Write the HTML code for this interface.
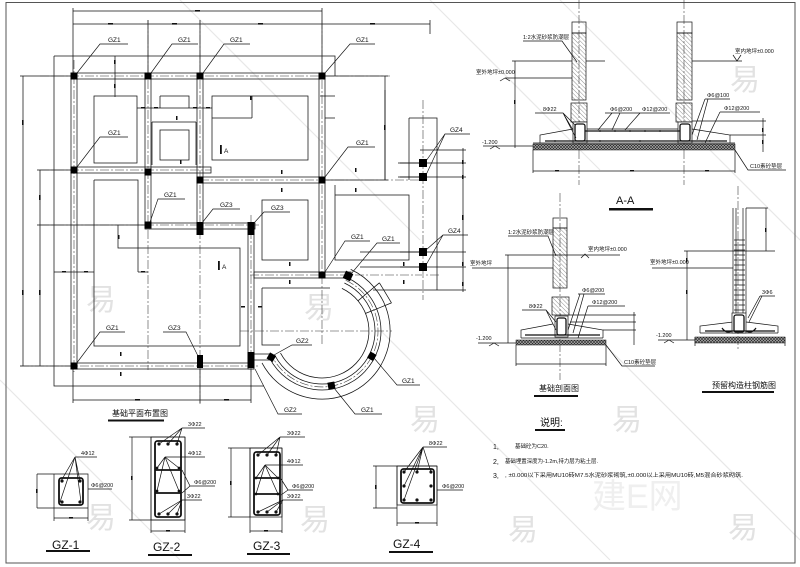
<!DOCTYPE html>
<html><head><meta charset="utf-8"><style>
html,body{margin:0;padding:0;background:#fff;}
svg{display:block}
text{font-family:"Liberation Sans","Noto Sans CJK SC",sans-serif;fill:#111}
.s{font-size:5.5px}
.m{font-size:6.5px}
.b{font-size:12px}
.w{font-size:30px;fill:#e2e2e2}
</style></head><body>
<svg width="800" height="567" viewBox="0 0 800 567" xmlns="http://www.w3.org/2000/svg">
<defs>
<pattern id="hp" width="3" height="3" patternUnits="userSpaceOnUse" patternTransform="rotate(-45)"><line x1="0" y1="0" x2="0" y2="3" stroke="#444" stroke-width="0.6"/></pattern>
<pattern id="cp" width="3" height="3" patternUnits="userSpaceOnUse"><rect width="3" height="3" fill="#aaa"/><path d="M0 0L3 3M3 0L0 3" stroke="#222" stroke-width="0.6"/></pattern>
</defs>
<rect width="800" height="567" fill="#fff"/>
<!-- watermarks -->
<g>
<text class="w" x="86" y="310">易</text><text class="w" x="304" y="318">易</text><text class="w" x="730" y="90">易</text>
<text class="w" x="86" y="528">易</text><text class="w" x="300" y="530">易</text><text class="w" x="410" y="430">易</text>
<text class="w" x="612" y="430">易</text><text class="w" x="508" y="540">易</text><text class="w" x="728" y="538">易</text>
<text x="592" y="508" style="font-size:34px;fill:#efefef">建E网</text>
</g>
<g stroke="#e8e8e8" stroke-width="1.2" fill="none">
<path d="M430 0L600 170 M560 0L800 240 M180 0L420 240 M0 380L180 560 M380 330L610 560 M600 340L800 540"/>
</g>
<!-- frame -->
<rect x="6" y="2.5" width="789" height="560.5" fill="none" stroke="#555" stroke-width="1"/>

<!-- ================= PLAN ================= -->
<g stroke="#111" stroke-width="0.75" fill="none">
<path d="M73 11H322 M73 24H430 M73 8V73 M148 20V73 M200 20V73 M322 8V73 M430 20V34"/>
<path d="M23 76V366 M20 76H71 M20 366H71 M40 170V366 M37 170H71 M37 225H145"/>
<path d="M385 76V180 M325 76H388 M325 180H388"/>
<path d="M463 148V292 M420 150H466 M400 163H466 M400 177H466 M400 252H466 M400 267H466 M437 290H466"/>
<path d="M73 400H251 M73 369V403 M200 369V403 M251 369V403"/>
<path d="M115 56V97 M252 96V118 M212 118H252 M137 108H212 M320 96H335 M325 118H335"/>
<path d="M54 56H335V76 M54 56V386H264"/>
<path d="M94 96H137V163H94Z M160 96H189V108 M160 96V108 M152 122H196 M152 122V165 M196 122V165 M160 130H189V160H160Z M212 96H308V160H212Z"/>
<path d="M94 180H138V272 M94 180V346H240V248H118V225 M54 272H94 M138 272H148"/>
<path d="M262 200H308V260H262Z M335 195H409V260H335Z M409 118H437V290 M409 118V180 M335 185V195 M385 90V180"/>
<path d="M262 288H330 M262 288V345H280 M373 290H437 M398 163H423 M398 177H423 M360 252H423 M360 267H423"/>
<rect x="71" y="73" width="254" height="6"/>
<rect x="71" y="73" width="6" height="296"/>
<rect x="145" y="73" width="6" height="155"/>
<rect x="197" y="73" width="6" height="158"/>
<rect x="319" y="73" width="6" height="205"/>
<rect x="71" y="167" width="140" height="6"/>
<rect x="197" y="177" width="128" height="6"/>
<rect x="145" y="223" width="110" height="6"/>
<rect x="248" y="225" width="6" height="144"/>
<rect x="71" y="363" width="183" height="6"/>
<rect x="254" y="272" width="97" height="6"/>
<rect x="254" y="354" width="18" height="6"/>
<path d="M341.9 288.4A47 47 0 1 1 280.5 353.1"/>
<path d="M344.4 283.0A53 53 0 1 1 275.2 355.9"/>
<path d="M346.9 277.5A59 59 0 1 1 269.9 358.7"/>
<path d="M350.7 269.4A68 68 0 1 1 262.0 362.9"/>
<path d="M358 300.8L379.4 282.8 M365.6 313.4L391.5 302.9 M379.4 282.8L391.5 302.9"/>
</g>
<g stroke="#333" stroke-width="0.55" fill="none" stroke-dasharray="9 2 2 2">
<path d="M74 60V372 M148 20V370 M200 20V405 M251 215V372 M322 20V345 M423 100V300"/>
<path d="M40 76H390 M40 170H211 M200 180H420 M40 225H260 M250 275H440 M20 366H260 M240 331H392"/>
<path d="M345.7 280.2A56 56 0 1 1 272.6 357.3"/>
</g>
<g fill="#111">
<rect x="195" y="10" width="5" height="1.6"/><rect x="108" y="23" width="5" height="1.6"/><rect x="172" y="23" width="5" height="1.6"/><rect x="258" y="23" width="5" height="1.6"/><rect x="370" y="23" width="5" height="1.6"/>
<rect x="22" y="120" width="1.6" height="5"/><rect x="22" y="290" width="1.6" height="5"/><rect x="39" y="195" width="1.6" height="5"/><rect x="39" y="290" width="1.6" height="5"/>
<rect x="384" y="125" width="1.6" height="5"/><rect x="462" y="160" width="1.6" height="4"/><rect x="462" y="175" width="1.6" height="4"/><rect x="462" y="215" width="1.6" height="5"/><rect x="462" y="262" width="1.6" height="4"/><rect x="462" y="282" width="1.6" height="4"/>
<rect x="135" y="399" width="5" height="1.6"/><rect x="224" y="399" width="5" height="1.6"/>
<rect x="114" y="60" width="1.6" height="4"/><rect x="114" y="84" width="1.6" height="4"/><rect x="250" y="96" width="1.6" height="4"/>
<rect x="141" y="107" width="4" height="1.5"/><rect x="154" y="107" width="4" height="1.5"/><rect x="193" y="107" width="4" height="1.5"/><rect x="206" y="107" width="4" height="1.5"/>
<rect x="176" y="116" width="1.5" height="4"/><rect x="180" y="160" width="1.5" height="4"/><rect x="281" y="170" width="1.5" height="4"/><rect x="281" y="188" width="1.5" height="4"/>
<rect x="355" y="168" width="1.5" height="4"/><rect x="355" y="188" width="1.5" height="4"/><rect x="118" y="235" width="1.5" height="4"/>
<rect x="62" y="271" width="4" height="1.5"/><rect x="84" y="271" width="4" height="1.5"/><rect x="141" y="271" width="4" height="1.5"/>
<rect x="241" y="306" width="4" height="1.5"/><rect x="258" y="306" width="4" height="1.5"/>
<rect x="120" y="352" width="1.5" height="4"/><rect x="120" y="372" width="1.5" height="4"/><rect x="289" y="262" width="1.5" height="4"/><rect x="289" y="280" width="1.5" height="4"/>
<rect x="403" y="262" width="1.5" height="4"/><rect x="403" y="280" width="1.5" height="4"/>
</g>
<g fill="#000">
<rect x="70.5" y="72.5" width="7" height="7"/><rect x="144.5" y="72.5" width="7" height="7"/><rect x="196.5" y="72.5" width="7" height="7"/><rect x="318.5" y="72.5" width="7" height="7"/>
<rect x="70.5" y="166.5" width="7" height="7"/><rect x="144.5" y="168.5" width="7" height="7"/><rect x="196.5" y="176.5" width="7" height="7"/><rect x="318.5" y="176.5" width="7" height="7"/>
<rect x="144.5" y="221.5" width="7" height="7"/><rect x="196.5" y="222" width="7" height="13"/><rect x="247.5" y="222" width="7" height="13"/>
<rect x="318.5" y="271.5" width="7" height="7"/><rect x="70.5" y="362.5" width="7" height="7"/>
<rect x="197" y="355" width="6" height="13"/><rect x="247.5" y="352" width="7" height="16"/>
<rect x="419" y="159" width="8" height="8"/><rect x="419" y="173" width="8" height="8"/><rect x="419" y="248" width="8" height="8"/><rect x="419" y="263" width="8" height="8"/>
<rect x="344" y="272" width="8" height="8" transform="rotate(25 348 276)"/>
<rect x="268" y="353" width="7" height="7" transform="rotate(-60 272 357)"/>
<rect x="368" y="353" width="7" height="7" transform="rotate(30 372 357)"/>
<rect x="328" y="382" width="7" height="7" transform="rotate(-10 332 386)"/>
</g>
<g stroke="#111" stroke-width="0.65" fill="none">
<path d="M128 44H100L77 73 M198 44H172L151 73 M250 44H224L203 73 M375 44H350L325 73"/>
<path d="M128 137H100L77 167 M185 199H158L150 222 M240 209H213L202 223 M290 212H264L254 223"/>
<path d="M375 147H348L325 177 M470 134H445L426 161 M445 134L426 175 M468 235H443L426 250 M443 235L426 265"/>
<path d="M370 241H345L325 272 M400 243H377L351 274 M125 332H100L76 364 M163 332H186L198 356"/>
<path d="M312 345H292L274 355 M255 369L278 414H302 M334 388L355 414H382 M374 358L397 385H420"/>
</g>
<g class="m">
<text x="108" y="42">GZ1</text><text x="178" y="42">GZ1</text><text x="230" y="42">GZ1</text><text x="356" y="42">GZ1</text>
<text x="108" y="135">GZ1</text><text x="164" y="197">GZ1</text><text x="220" y="207">GZ3</text><text x="271" y="210">GZ3</text>
<text x="356" y="145">GZ1</text><text x="450" y="132">GZ4</text><text x="448" y="233">GZ4</text>
<text x="351" y="239">GZ1</text><text x="382" y="241">GZ1</text><text x="106" y="330">GZ1</text><text x="168" y="330">GZ3</text>
<text x="296" y="343">GZ2</text><text x="284" y="412">GZ2</text><text x="361" y="412">GZ1</text><text x="402" y="383">GZ1</text>
<text x="224" y="153">A</text><text x="222" y="269">A</text>
</g>
<rect x="220" y="145" width="1.8" height="9" fill="#111"/><rect x="218" y="261" width="1.8" height="9" fill="#111"/>
<text x="112" y="416" style="font-size:8px">基础平面布置图</text>
<rect x="108" y="419.5" width="56" height="2" fill="#111"/>

<!-- ================= SECTION A-A ================= -->
<g stroke="#333" stroke-width="0.55" fill="none" stroke-dasharray="9 2 2 2">
<path d="M579 0V185 M684 0V185 M560 193V380 M738 186V350"/>
</g>
<g stroke="#111" stroke-width="0.7" fill="none">
<rect x="572" y="22" width="14" height="11"/><rect x="677" y="22" width="15" height="11"/>
<rect x="572" y="33" width="14" height="67" fill="url(#hp)"/><rect x="677" y="33" width="15" height="67" fill="url(#hp)"/>
<rect x="571" y="103" width="16" height="19" fill="url(#hp)"/><rect x="676" y="103" width="16" height="19" fill="url(#hp)"/>
<rect x="573" y="122" width="14" height="21" fill="#fff"/><rect x="678" y="122" width="14" height="21" fill="#fff"/>
<path d="M540 143V135L573 129 M587 129H678 M692 129L730 135V143 M533 143H735"/>
<path d="M515 61H572 M586 61H605 M692 61H742 M505 78H572 M515 61V148 M512 61H518 M512 78H518"/>
<path d="M483 146H533 M533 150V173 M735 150V173 M533 171H735 M692 121H766 M730 135H766 M763 118V152"/>
<path d="M535 113H563L575 125 M563 113L573 130 M563 113L576 138 M605 113H640 M612 113L598 130 M620 113L612 130 M640 113L625 130 M670 113H640"/>
<path d="M705 99H730 M705 99L692 135 M708 99L697 140 M720 112H760 M720 112L705 143 M735 150L748 170H786 M523 41H562L577 62"/>
<path d="M500 81L505 78L510 81 M733 55L737 61L741 55 M490 149L495 146L500 149"/>
</g>
<g stroke="#111" stroke-width="1.3" fill="none">
<rect x="575" y="124" width="10" height="17" rx="2"/><rect x="680" y="124" width="10" height="17" rx="2"/>
<path d="M585 131H680 M545 141H727"/>
</g>
<rect x="533" y="144" width="202" height="6" fill="url(#cp)" stroke="#111" stroke-width="0.5"/>
<g fill="#111">
<circle cx="600" cy="131" r="0.9"/><circle cx="615" cy="131" r="0.9"/><circle cx="630" cy="131" r="0.9"/><circle cx="645" cy="131" r="0.9"/><circle cx="660" cy="131" r="0.9"/>
<circle cx="555" cy="141" r="0.9"/><circle cx="600" cy="141" r="0.9"/><circle cx="640" cy="141" r="0.9"/><circle cx="710" cy="141" r="0.9"/>
<rect x="514" y="100" width="1.5" height="4"/><rect x="762" y="128" width="1.5" height="4"/><rect x="762" y="140" width="1.5" height="4"/>
<rect x="555" y="170" width="4" height="1.5"/><rect x="630" y="170" width="4" height="1.5"/><rect x="705" y="170" width="4" height="1.5"/>
</g>
<g class="s">
<text x="523" y="39">1:2水泥砂浆防潮层</text>
<text x="476" y="74">室外地坪±0.000</text>
<text x="735" y="53">室内地坪±0.000</text>
<text x="482" y="144">-1.200</text>
<text x="543" y="111">8Φ22</text>
<text x="610" y="111">Φ6@200</text>
<text x="642" y="111">Φ12@200</text>
<text x="707" y="97">Φ6@100</text>
<text x="724" y="110">Φ12@200</text>
<text x="750" y="168">C10素砼垫层</text>
</g>
<text x="616" y="204" style="font-size:11px">A-A</text>
<rect x="609" y="208" width="44" height="2.5" fill="#111"/>

<!-- ================= 基础剖面图 ================= -->
<g stroke="#111" stroke-width="0.7" fill="none">
<rect x="553" y="218" width="14" height="10"/>
<rect x="553" y="228" width="14" height="60" fill="url(#hp)"/>
<rect x="552" y="297" width="17" height="18" fill="url(#hp)"/>
<rect x="555" y="316" width="13" height="21" fill="#fff"/>
<path d="M521 338V330L553 324 M568 324L603 330V338 M521 338H603"/>
<path d="M510 255H620 M472 268H553 M508 255V343 M505 255H511 M505 268H511 M478 343H516 M516 345V366 M606 345V366 M516 364H606"/>
<path d="M568 315H636 M570 322H636 M603 330H636 M634 312V345"/>
<path d="M508 236H548L556 256 M522 310H546L556 322 M546 310L556 330 M578 294H605 M580 294L568 330 M584 294L573 333 M588 306H625 M588 306L578 338 M606 345L622 366H655"/>
<path d="M581 258L585 254L589 258 M489 346L494 343L499 346"/>
</g>
<rect x="557" y="318" width="9" height="17" rx="2" fill="none" stroke="#111" stroke-width="1.3"/>
<path d="M525 335H600" stroke="#111" stroke-width="1.3"/>
<rect x="516" y="340" width="90" height="5" fill="url(#cp)" stroke="#111" stroke-width="0.5"/>
<g class="s">
<text x="508" y="234">1:2水泥砂浆防潮层</text>
<text x="588" y="251">室内地坪±0.000</text>
<text x="470" y="265">室外地坪</text>
<text x="476" y="340">-1.200</text>
<text x="529" y="308">8Φ22</text>
<text x="582" y="292">Φ6@200</text>
<text x="592" y="304">Φ12@200</text>
<text x="624" y="364">C10素砼垫层</text>
</g>
<text x="539" y="391" style="font-size:8px">基础剖面图</text>
<rect x="534" y="395" width="44" height="2" fill="#111"/>

<!-- ================= 预留构造柱钢筋图 ================= -->
<g stroke="#111" stroke-width="0.7" fill="none">
<path d="M733 208V313 M746 208V313 M736 208V333 M743 208V333"/>
<path d="M734 250H745 M734 255H745 M734 260H745 M734 265H745 M734 270H745 M734 275H745 M734 280H745 M734 285H745 M734 290H745 M734 295H745 M734 300H745 M734 305H745 M734 310H745 M734 245H745 M734 240H745"/>
<path d="M746 208H768 M766 208V251 M687 251H775 M652 268H733 M687 251V340 M684 251H690 M684 268H690 M658 340H695"/>
<path d="M700 333V326L733 322 M746 322L778 326V333 M700 333H778 M695 337V346 M785 337V346"/>
<path d="M760 296H775 M760 296L748 318 M762 296L749 322 M664 343L669 340L674 343"/>
</g>
<rect x="732" y="313" width="14" height="20" fill="#fff" stroke="#111" stroke-width="0.7"/>
<rect x="734" y="315" width="10" height="17" rx="2" fill="none" stroke="#111" stroke-width="1.3"/>
<path d="M705 331H775 M722 328Q726 334 732 331 M746 331Q752 334 756 328" stroke="#111" stroke-width="1.2" fill="none"/>
<rect x="695" y="337" width="90" height="6" fill="url(#cp)" stroke="#111" stroke-width="0.5"/>
<g fill="#111"><rect x="765" y="228" width="1.5" height="4"/><rect x="686" y="290" width="1.5" height="4"/><rect x="686" y="258" width="1.5" height="4"/></g>
<g class="s">
<text x="650" y="264">室外地坪±0.000</text>
<text x="656" y="337">-1.200</text>
<text x="762" y="294">3Φ6</text>
</g>
<text x="712" y="388" style="font-size:8px">预留构造柱钢筋图</text>
<rect x="702" y="391" width="72" height="2" fill="#111"/>

<!-- ================= COLUMN SECTIONS ================= -->
<g stroke="#111" stroke-width="0.7" fill="none">
<path d="M37 474V508 M37 474H88 M37 508H54 M54 474V521 M88 474V521 M54 518H88 M54 474H88V508H54"/>
<path d="M75 457H97 M75 457L61 481 M75 457L60 502 M75 457L80 481 M75 457L81 502 M88 489H112"/>
<path d="M132 437V520 M129 437H185 M129 520H151 M151 437V533 M185 437V533 M151 531H185 M151 520H185"/>
<rect x="151" y="437" width="34" height="83"/>
<path d="M182 428H205 M182 428L159 444 M182 428L168 444 M182 428L177 444"/>
<path d="M165 457H205 M165 457L157 468 M165 457L157 491 M165 457L179 468 M165 457L179 491"/>
<path d="M190 486H215 M190 486L182 470 M190 486L182 493"/>
<path d="M182 500H202 M182 500L159 514 M182 500L168 514 M182 500L177 514"/>
<path d="M231 448V517 M228 448H282 M228 517H250 M250 448V533 M282 448V533 M250 531H282"/>
<rect x="250" y="448" width="32" height="69"/>
<path d="M280 437H305 M280 437L258 455 M280 437L267 455 M280 437L276 455"/>
<path d="M265 465H303 M265 465L256 478 M265 465L256 494 M265 465L278 478 M265 465L278 494"/>
<path d="M288 490H313 M288 490L281 479 M288 490L281 495"/>
<path d="M283 500H303 M283 500L258 512 M283 500L267 512 M283 500L276 512"/>
<path d="M376 466V508 M373 466H437 M373 508H397 M397 466V526 M437 466V526 M397 523H437"/>
<rect x="397" y="466" width="40" height="39"/>
<path d="M423 447H447 M423 447L404 472 M423 447L404 486 M423 447L404 500 M423 447L417 472 M423 447L431 472"/>
<path d="M437 490H463"/>
</g>
<g stroke="#111" stroke-width="1.8" fill="none">
<rect x="59" y="478" width="24" height="27" rx="2.5"/>
<rect x="155" y="441" width="26" height="76" rx="2.5"/>
<path d="M155 470H181 M155 493H181"/>
<rect x="254" y="452" width="26" height="63" rx="2.5"/>
<path d="M254 478H280 M254 494H280"/>
<rect x="401" y="469" width="33" height="34" rx="2.5"/>
</g>
<g fill="#111">
<circle cx="62" cy="481" r="1.6"/><circle cx="80" cy="481" r="1.6"/><circle cx="62" cy="502" r="1.6"/><circle cx="80" cy="502" r="1.6"/>
<circle cx="159" cy="444" r="1.6"/><circle cx="168" cy="444" r="1.6"/><circle cx="177" cy="444" r="1.6"/><circle cx="157" cy="468" r="1.4"/><circle cx="179" cy="468" r="1.4"/><circle cx="157" cy="491" r="1.4"/><circle cx="179" cy="491" r="1.4"/><circle cx="159" cy="514" r="1.6"/><circle cx="168" cy="514" r="1.6"/><circle cx="177" cy="514" r="1.6"/>
<circle cx="258" cy="455" r="1.6"/><circle cx="267" cy="455" r="1.6"/><circle cx="276" cy="455" r="1.6"/><circle cx="256" cy="478" r="1.4"/><circle cx="278" cy="478" r="1.4"/><circle cx="256" cy="494" r="1.4"/><circle cx="278" cy="494" r="1.4"/><circle cx="258" cy="512" r="1.6"/><circle cx="267" cy="512" r="1.6"/><circle cx="276" cy="512" r="1.6"/>
<circle cx="404" cy="472" r="1.6"/><circle cx="431" cy="472" r="1.6"/><circle cx="404" cy="500" r="1.6"/><circle cx="431" cy="500" r="1.6"/><circle cx="417" cy="472" r="1.6"/><circle cx="417" cy="500" r="1.6"/><circle cx="404" cy="486" r="1.6"/><circle cx="431" cy="486" r="1.6"/>
<rect x="36" y="489" width="1.6" height="4"/><rect x="69" y="517" width="4" height="1.6"/><rect x="131" y="476" width="1.6" height="4"/><rect x="166" y="530" width="4" height="1.6"/><rect x="230" y="481" width="1.6" height="4"/><rect x="264" y="530" width="4" height="1.6"/><rect x="375" y="485" width="1.6" height="4"/><rect x="415" y="522" width="4" height="1.6"/>
</g>
<g class="s">
<text x="81" y="455">4Φ12</text><text x="91" y="487">Φ6@200</text>
<text x="188" y="426">3Φ22</text><text x="188" y="455">4Φ12</text><text x="194" y="484">Φ6@200</text><text x="187" y="498">3Φ22</text>
<text x="287" y="435">3Φ22</text><text x="287" y="463">4Φ12</text><text x="292" y="488">Φ6@200</text><text x="287" y="498">3Φ22</text>
<text x="429" y="445">8Φ22</text><text x="442" y="488">Φ6@200</text>
</g>
<g class="b">
<text x="52" y="549">GZ-1</text><text x="153" y="551">GZ-2</text><text x="253" y="550">GZ-3</text><text x="393" y="548">GZ-4</text>
</g>
<rect x="46" y="550" width="44" height="2" fill="#111"/>
<rect x="148" y="554" width="44" height="2" fill="#111"/>
<rect x="247" y="553" width="43" height="2" fill="#111"/>
<rect x="389" y="551" width="44" height="2" fill="#111"/>

<!-- ================= NOTES ================= -->
<text x="540" y="426" style="font-size:10px">说明:</text>
<rect x="535" y="429" width="30" height="2" fill="#111"/>
<g style="font-size:7px">
<text x="493" y="449">1,</text>
<text x="493" y="464">2,</text>
<text x="493" y="478">3,</text>
</g>
<g class="s">
<text x="515" y="448">基础砼为C20.</text>
<text x="505" y="463" textLength="93" lengthAdjust="spacingAndGlyphs">基础埋置深度为-1.2m,持力层为粘土层.</text>
<text x="505" y="477" textLength="238" lengthAdjust="spacingAndGlyphs">, ±0.000以下采用MU10砖M7.5水泥砂浆砌筑,±0.000以上采用MU10砖,M5混合砂浆砌筑.</text>
</g>
</svg>
</body></html>
